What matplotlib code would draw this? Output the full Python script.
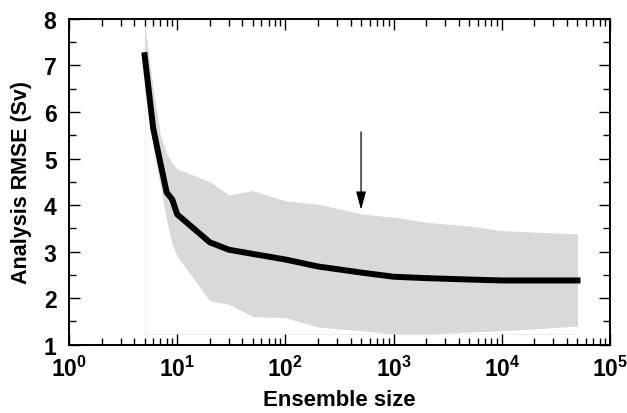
import matplotlib
matplotlib.use("Agg")
import matplotlib.pyplot as plt
from matplotlib.ticker import LogLocator, FixedLocator, MultipleLocator, FuncFormatter
import numpy as np

plt.rcParams['font.family'] = ['Liberation Sans', 'DejaVu Sans']
plt.rcParams['font.weight'] = 'bold'
plt.rcParams['mathtext.fontset'] = 'custom'
plt.rcParams['mathtext.rm'] = 'Liberation Sans:bold'
plt.rcParams['mathtext.bf'] = 'Liberation Sans:bold'
plt.rcParams['mathtext.it'] = 'Liberation Sans:bold'

# Ensemble sizes and analysis RMSE (mean and spread envelope)
ens_size = [5, 6, 7, 8, 9, 10, 20, 30, 50, 100, 200, 500, 1000, 2000, 5000, 10000, 20000, 50000]
rmse_mean = [7.22, 5.65, 4.9, 4.27, 4.12, 3.8, 3.2, 3.04, 2.95, 2.83, 2.68, 2.55, 2.46, 2.43, 2.40, 2.38, 2.38, 2.38]
rmse_upper = [7.9, 6.5, 5.5, 5.1, 4.9, 4.78, 4.5, 4.22, 4.31, 4.09, 4.02, 3.81, 3.74, 3.63, 3.55, 3.45, 3.42, 3.38]
rmse_lower = [7.0, 5.25, 4.4, 3.66, 3.16, 2.9, 1.94, 1.87, 1.6, 1.58, 1.38, 1.3, 1.23, 1.23, 1.27, 1.3, 1.34, 1.4]

arrow_x = 500
arrow_top = 5.57
arrow_tip = 3.9

x_ticks = [1, 10, 100, 1000, 10000, 100000]
y_ticks = [1, 2, 3, 4, 5, 6, 7, 8]

fig = plt.figure(figsize=(6.27, 4.14), dpi=100)
ax = fig.add_axes([0.110, 0.165, 0.863, 0.787])

ax.fill_between(ens_size, rmse_lower, rmse_upper, color='#d9d9d9', lw=0, zorder=1)
# faint frame of the envelope region
ax.plot([ens_size[0], ens_size[0], ens_size[-1]], [rmse_upper[0], 1.22, 1.22],
        color='#eeeeee', lw=0.8, zorder=0.5)
ax.plot(ens_size, rmse_mean, color='black', lw=4.3, solid_joinstyle='round', zorder=3)

ax.annotate('', xy=(arrow_x, arrow_tip), xytext=(arrow_x, arrow_top),
            arrowprops=dict(arrowstyle='-|>,head_length=1.1,head_width=0.3',
                            color='black', lw=0.9, shrinkA=0, shrinkB=0), zorder=4)

ax.set_xscale('log')
ax.set_xlim(1, 1e5)
ax.set_ylim(1, 8)
ax.xaxis.set_major_locator(FixedLocator(x_ticks))
ax.xaxis.set_minor_locator(LogLocator(base=10, subs=np.arange(2, 10), numticks=20))
ax.xaxis.set_major_formatter(FuncFormatter(lambda v, p: r'$10^{%d}$' % int(round(np.log10(v)))))
ax.yaxis.set_major_locator(FixedLocator(y_ticks))
ax.yaxis.set_minor_locator(MultipleLocator(0.5))

ax.tick_params(which='both', direction='in', top=True, right=True, width=1.0, color='black')
ax.tick_params(which='major', length=8)
ax.tick_params(which='minor', length=5)
ax.tick_params(axis='y', which='major', labelsize=16.5, pad=9)
ax.tick_params(axis='x', which='major', labelsize=16.5, pad=8)
for lab in ax.get_yticklabels():
    lab.set_fontweight('bold')

for sp in ax.spines.values():
    sp.set_linewidth(1.4)

ax.set_xlabel('Ensemble size', fontsize=16, fontweight='bold', labelpad=6)
ax.set_ylabel('Analysis RMSE (Sv)', fontsize=15.5, fontweight='bold', labelpad=8)

fig.savefig('out.png', dpi=100)
